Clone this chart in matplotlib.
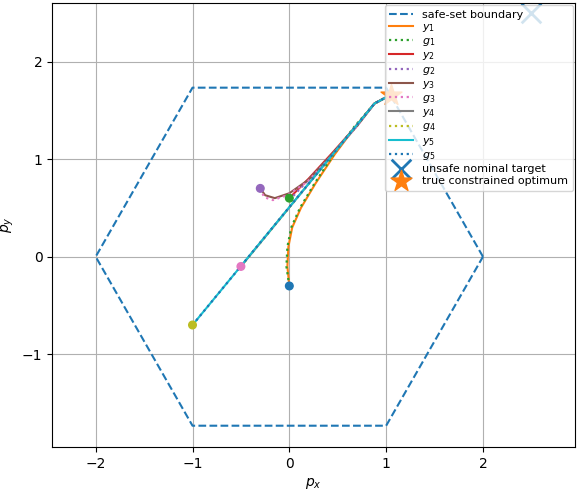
import matplotlib
matplotlib.use("Agg")
import matplotlib.pyplot as plt
import numpy as np

# hexagon safe set
hex_x = [2, 1, -1, -2, -1, 1, 2]
hex_y = [0, 1.732, 1.732, 0, -1.732, -1.732, 0]

# trajectories
y1_x = [0, -0.02, -0.01, 0.03, 0.12, 0.27, 0.47, 0.68, 0.88, 1.05]
y1_y = [-0.3, -0.1, 0.1, 0.3, 0.5, 0.75, 1.05, 1.33, 1.57, 1.66]
g1_x = [0, -0.03, -0.02, 0.02, 0.11, 0.26, 0.46, 0.67, 0.88, 1.05]
g1_y = [-0.3, -0.1, 0.1, 0.3, 0.5, 0.75, 1.05, 1.33, 1.57, 1.66]
y2_x = [0, 0.2, 0.45, 0.7, 0.88, 1.05]
y2_y = [0.6, 0.8, 1.07, 1.35, 1.57, 1.66]
g2_x = [0, 0.2, 0.45, 0.7, 0.88, 1.05]
g2_y = [0.58, 0.79, 1.06, 1.34, 1.57, 1.66]
y3_x = [-0.3, -0.25, -0.15, 0.0, 0.2, 0.45, 0.7, 0.88, 1.05]
y3_y = [0.7, 0.63, 0.6, 0.65, 0.79, 1.06, 1.34, 1.57, 1.66]
g3_x = [-0.3, -0.26, -0.17, -0.02, 0.19, 0.45, 0.7, 0.88, 1.05]
g3_y = [0.7, 0.61, 0.58, 0.63, 0.77, 1.05, 1.34, 1.57, 1.66]
y4_x = [-0.5, 0.88, 1.05]
y4_y = [-0.1, 1.57, 1.66]
y5_x = [-1.0, 0.88, 1.05]
y5_y = [-0.7, 1.57, 1.66]

starts_x = [0, 0, -0.3, -0.5, -1.0]
starts_y = [-0.3, 0.6, 0.7, -0.1, -0.7]
start_colors = ["C0", "C2", "C4", "C6", "C8"]

target = (2.5, 2.5)
optimum = (1.05, 1.66)

fig, ax = plt.subplots(figsize=(5.79, 4.95), dpi=100)
ax.plot(hex_x, hex_y, "--", color="C0", label="safe-set boundary")
ax.plot(y1_x, y1_y, color="C1", label="$y_1$")
ax.plot(g1_x, g1_y, ":", color="C2", lw=1.6, label="$g_1$")
ax.plot(y2_x, y2_y, color="C3", label="$y_2$")
ax.plot(g2_x, g2_y, ":", color="C4", lw=1.6, label="$g_2$")
ax.plot(y3_x, y3_y, color="C5", label="$y_3$")
ax.plot(g3_x, g3_y, ":", color="C6", lw=1.6, label="$g_3$")
ax.plot(y4_x, y4_y, color="C7", label="$y_4$")
ax.plot(y4_x, y4_y, ":", color="C8", lw=1.6, label="$g_4$")
ax.plot(y5_x, y5_y, color="C9", label="$y_5$")
ax.plot(y5_x, y5_y, ":", color="C0", lw=1.6, label="$g_5$")
ax.scatter(starts_x, starts_y, c=start_colors, s=30, zorder=3)
ax.scatter(*target, marker="x", s=200, color="C0", lw=2, label="unsafe nominal target")
ax.scatter(*optimum, marker="*", s=250, color="C1", label="true constrained optimum", zorder=4)

ax.set_xlim(-2.45, 2.95)
ax.set_ylim(-1.95, 2.6)
ax.set_xticks([-2, -1, 0, 1, 2])
ax.set_yticks([-1, 0, 1, 2])
ax.set_xlabel("$p_x$")
ax.set_ylabel("$p_y$")
ax.grid(True)
ax.legend(loc="upper right", fontsize=8, borderaxespad=0.2, handlelength=2.2,
          labelspacing=0.2)
fig.subplots_adjust(left=0.09, right=0.993, top=0.994, bottom=0.097)
fig.savefig("out.png")
